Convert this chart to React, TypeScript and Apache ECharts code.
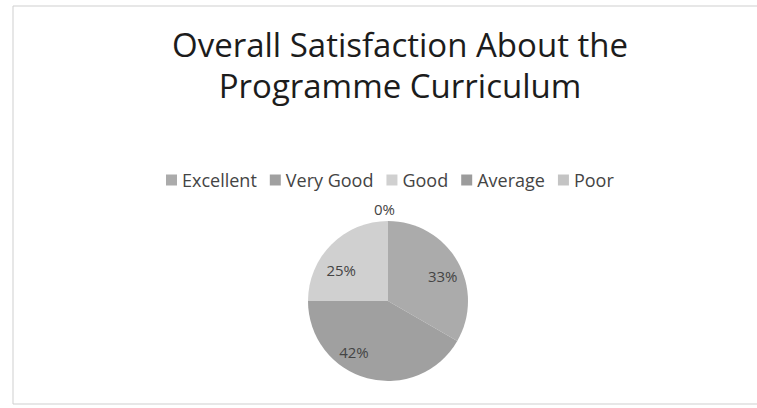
import React, { useEffect, useRef } from "react";
import * as echarts from "echarts";

const categories = ["Excellent", "Very Good", "Good", "Average", "Poor"];
const values = [4, 5, 3, 0, 0];
const colors = ["#ababab", "#a0a0a0", "#d0d0d0", "#9c9c9c", "#c4c4c4"];
const titleText = "Overall Satisfaction About the\nProgramme Curriculum";
const labelOffsets: number[][] = [[1, 6], [-18, -9], [-3, 13], [12, -4], [12, -4]];

export default function App() {
  const ref = useRef<HTMLDivElement>(null);
  useEffect(() => {
    const chart = echarts.init(ref.current!, null, { renderer: "svg" });
    const font = "Open Sans";
    const center = [388, 301];
    chart.setOption({
      animation: false,
      backgroundColor: "#ffffff",
      graphic: [
        {
          type: "rect",
          shape: { x: 13, y: 6, width: 760, height: 398 },
          style: { fill: "none", stroke: "#cfcfcf", lineWidth: 1 },
          silent: true,
        },
      ],
      title: {
        text: titleText,
        left: 395,
        textAlign: "center",
        top: 19,
        textStyle: {
          fontFamily: font,
          fontSize: 33,
          fontWeight: "normal",
          color: "#1c1c1c",
          lineHeight: 41,
        },
      },
      legend: {
        top: 166,
        left: 161,
        itemWidth: 11,
        itemHeight: 11,
        itemGap: 13,
        icon: "rect",
        textStyle: { fontFamily: font, fontSize: 18, color: "#444" },
        data: categories.map((c, i) => ({ name: c, itemStyle: { color: colors[i] } })),
      },
      series: [
        {
          type: "pie",
          center,
          radius: [0, 80],
          startAngle: 90,
          clockwise: true,
          percentPrecision: 0,
          avoidLabelOverlap: false,
          data: categories.map((c, i) => ({
            name: c,
            value: values[i],
            itemStyle: { color: colors[i] },
            label:
              values[i] === 0
                ? { show: true, position: "outside", formatter: "{d}%", offset: labelOffsets[i] }
                : { show: false },
            labelLine: { show: false, length: 8, length2: 0 },
          })),
          label: {
            fontFamily: font,
            fontSize: 15,
            color: "#444",
          },
          labelLine: { show: false },
          emphasis: { disabled: true },
        },
        {
          type: "pie",
          center,
          radius: [0, 118],
          startAngle: 90,
          clockwise: true,
          percentPrecision: 0,
          silent: true,
          legendHoverLink: false,
          data: categories.map((c, i) => ({
            name: c,
            value: values[i],
            itemStyle: { color: "transparent" },
            label: {
              show: values[i] !== 0,
              offset: labelOffsets[i],
            },
          })),
          label: {
            position: "inside",
            formatter: "{d}%",
            fontFamily: font,
            fontSize: 15,
            color: "#444",
          },
          labelLine: { show: false },
          emphasis: { disabled: true },
        },
      ],
    });
    return () => chart.dispose();
  }, []);
  return (
    <div
      ref={ref}
      style={{ position: "fixed", left: 0, top: 0, width: 757, height: 408 }}
    />
  );
}
